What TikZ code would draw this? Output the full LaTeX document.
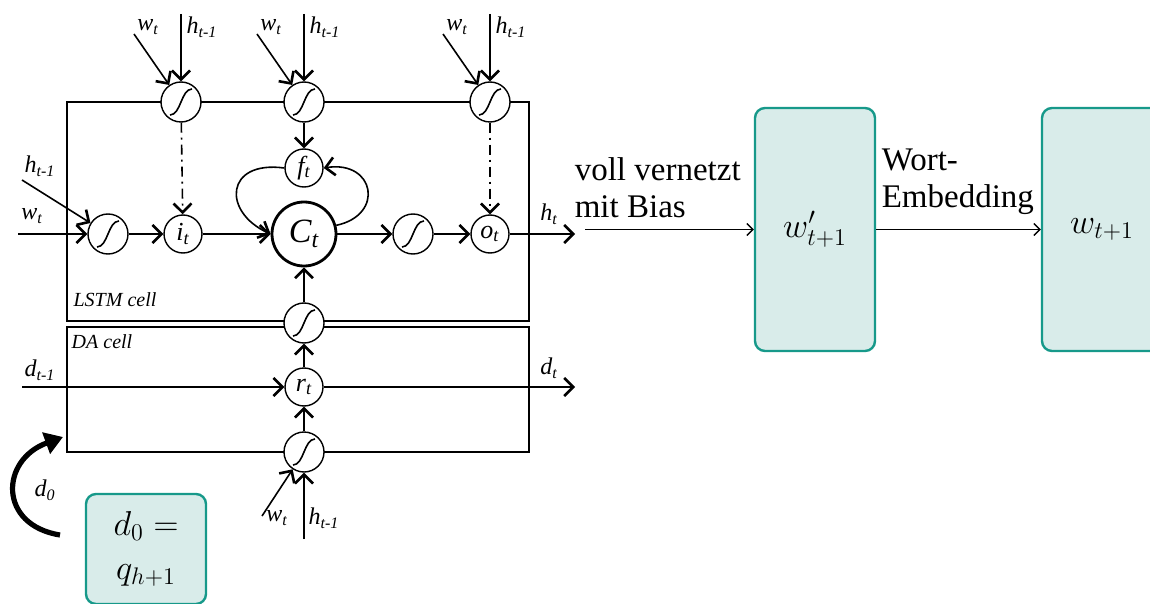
\documentclass[tikz,border=0pt]{standalone}
\usepackage{fontspec}
\setmainfont{Liberation Serif}
\usetikzlibrary{arrows.meta}
\definecolor{tealline}{HTML}{17998A}
\definecolor{tealfill}{HTML}{D9ECEA}
\newcommand{\lsub}[2]{#1\textsubscript{#2}}

\begin{document}
\begin{tikzpicture}[x=0.5pt, y=-0.5pt, line width=0.8pt,
    arr/.style={-{Straight Barb[length=4.5pt,width=9pt,line width=1.3pt]}},
    tarr/.style={line width=0.7pt, -{Straight Barb[length=3pt,width=6pt]}},
    sig/.style={circle, draw, fill=white, line width=0.7pt, minimum size=20pt, inner sep=0pt,
      path picture={\draw[line width=0.8pt] ([xshift=-5.5pt,yshift=-6.5pt]path picture bounding box.center)
        .. controls +(5.5pt,0pt) and +(-5.5pt,0pt) .. ([xshift=5.5pt,yshift=6.5pt]path picture bounding box.center);}},
    gate/.style={circle, draw, fill=white, line width=0.7pt, minimum size=19pt, inner sep=0pt,
      font=\fontsize{13}{13}\selectfont\itshape},
    lbl/.style={inner sep=0pt, font=\fontsize{12}{12}\selectfont\itshape},
    cell/.style={inner sep=0pt, font=\fontsize{10}{10}\selectfont\itshape},
    tbox/.style={draw=tealline, fill=tealfill, line width=1.2pt, rounded corners=5pt, inner sep=0pt},
    txt/.style={inner sep=0pt, align=left, font=\fontsize{16.5}{18.5}\selectfont}]
  \useasboundingbox (0,0) rectangle (1150,604);
  \clip (0,0) rectangle (1150,604);

  % cells
  \draw (67,102) rectangle (529,321);
  \draw (67,327) rectangle (529,452);
  \node [cell] (lstm) at (115,300) {LSTM cell};
  \node [cell] (da) at (102,342) {DA cell};

  \node [sig] (sA) at (181,102) {};
  \node [sig] (sF) at (304,102) {};
  \node [sig] (sO) at (490,102) {};
  \node [sig] (sIn) at (108,234) {};
  \node [gate] (iG) at (183,234) {\lsub{i}{t}};
  \node [gate] (fG) at (304,168) {\lsub{f}{t}};
  \node [circle, draw, fill=white, line width=1.4pt, minimum size=32pt, inner sep=0pt,
         font=\fontsize{17}{17}\selectfont\itshape] (C) at (304,234) {\lsub{C}{t}};
  \node [sig] (sC) at (413,234) {};
  \node [gate] (oG) at (490,234) {\lsub{o}{t}};
  \node [sig] (sM) at (304,323) {};
  \node [gate] (rG) at (304,387) {\lsub{r}{t}};
  \node [sig] (sB) at (304,452) {};

  \foreach \g/\x in {sA/181, sF/304, sO/490}
  {
    \coordinate (\g-w) at (\x-47,34);
    \coordinate (\g-h) at (\x,14);
    \draw [arr] (\g-w) -- (\g);
    \draw [arr] (\g-h) -- (\g);
    \node [lbl] (\g-wl) at (\x-33,27) {\lsub{w}{t}};
    \node [lbl] (\g-hl) at (\x+21,27) {\lsub{h}{t-1}};
  }

  \coordinate (hL) at (22,180);
  \coordinate (wL) at (18,234);
  \coordinate (hOut) at (575,234);
  \draw [arr] (hL) -- (sIn);
  \draw [arr] (wL) -- (sIn);
  \node [lbl] (hLl) at (40,166) {\lsub{h}{t-1}};
  \node [lbl] (wLl) at (32,216) {\lsub{w}{t}};

  \draw [arr] (sIn) -- (iG);
  \draw [arr] (iG) -- (C);
  \draw [arr] (C) -- (sC);
  \draw [arr] (sC) -- (oG);
  \draw [arr] (oG) -- (hOut);
  \node [lbl] (hOutl) at (549,214) {\lsub{h}{t}};

  \draw [arr] (sF) -- (fG);
  \draw [arr, dash pattern=on 5pt off 2.5pt on 1pt off 2.5pt] (sA) -- (iG);
  \draw [arr, dash pattern=on 5pt off 2.5pt on 1pt off 2.5pt] (sO) -- (oG);
  \draw [arr] (fG.west) .. controls (225,160) and (222,212) .. (C.west);
  \draw [arr] (C.15) .. controls (385,215) and (375,160) .. (fG.east);

  \draw [arr] (sM) -- (C);
  \draw [arr] (rG) -- (sM);
  \draw [arr] (sB) -- (rG);
  \coordinate (dIn) at (22,387);
  \coordinate (dOut) at (575,387);
  \draw [arr] (dIn) -- (rG);
  \draw [arr] (rG) -- (dOut);
  \node [lbl] (dInl) at (40,370) {\lsub{d}{t-1}};
  \node [lbl] (dOutl) at (549,368) {\lsub{d}{t}};

  \coordinate (bW) at (262,516);
  \coordinate (bH) at (304,539);
  \draw [arr] (bW) -- (sB);
  \draw [arr] (bH) -- (sB);
  \node [lbl] (bWl) at (277,518) {\lsub{w}{t}};
  \node [lbl] (bHl) at (324,518) {\lsub{h}{t-1}};

  % d0
  \coordinate (dA) at (60,535);
  \coordinate (dB) at (63,437);
  \draw [line width=2.6pt, -{Triangle[length=9pt,width=11pt]}] (dA) .. controls (-2,525) and (0,460) .. (dB);
  \node [lbl] (d0l) at (45,490) {\lsub{d}{0}};
  \node [tbox, minimum width=60pt, minimum height=55pt, align=center,
         font=\fontsize{17}{22}\selectfont] (dq) at (146,549) {$d_0 =$\\$q_{h+1}$};

  % output
  \node [tbox, minimum width=60pt, minimum height=121.5pt, font=\fontsize{17}{17}\selectfont] (wp) at (815,229.5) {$w'_{t+1}$};
  \node [tbox, minimum width=60pt, minimum height=121.5pt, font=\fontsize{17}{17}\selectfont] (wn) at (1102,229.5) {$w_{t+1}$};
  \coordinate (fcIn) at (585,229.5);
  \draw [tarr] (fcIn) -- (wp);
  \draw [tarr] (wp) -- (wn);
  \node [txt, anchor=north west] (fcTxt) at (574,157) {voll vernetzt\\mit Bias};
  \node [txt, anchor=north west] (embTxt) at (881,148) {Wort-\\Embedding};
\end{tikzpicture}
\end{document}
